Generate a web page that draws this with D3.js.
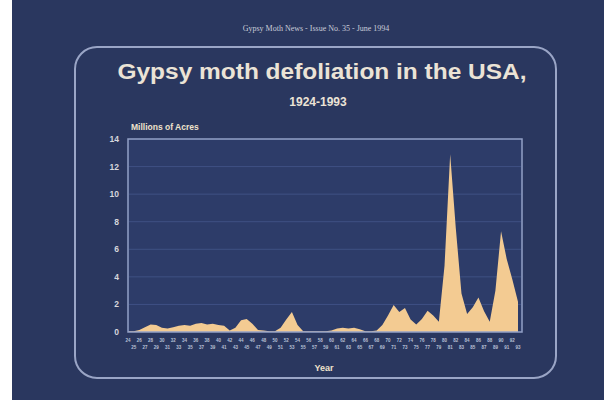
<!DOCTYPE html>
<html>
<head>
  <meta charset="utf-8">
  <style>
    body { margin: 0; background: #fff; }
    svg { display: block; }
    .grid line { stroke: #3f5184; stroke-width: 1; }
    .ylab { font: bold 8.5px "Liberation Sans", Arial, sans-serif; fill: #d6d6dc; }
    .xlab { font: bold 4.5px "Liberation Sans", Arial, sans-serif; fill: #b9c0d6; }
  </style>
</head>
<body>
  <svg width="604" height="400"></svg>
  <script src="https://cdn.jsdelivr.net/npm/d3@7"></script>
  <script>

  // years shown on the x axis
  var years = [1924, 1925, 1926, 1927, 1928, 1929, 1930, 1931, 1932, 1933,
               1934, 1935, 1936, 1937, 1938, 1939, 1940, 1941, 1942, 1943,
               1944, 1945, 1946, 1947, 1948, 1949, 1950, 1951, 1952, 1953,
               1954, 1955, 1956, 1957, 1958, 1959, 1960, 1961, 1962, 1963,
               1964, 1965, 1966, 1967, 1968, 1969, 1970, 1971, 1972, 1973,
               1974, 1975, 1976, 1977, 1978, 1979, 1980, 1981, 1982, 1983,
               1984, 1985, 1986, 1987, 1988, 1989, 1990, 1991, 1992, 1993];

  // defoliated area, millions of acres
  var acres = [0.05, 0.05, 0.15, 0.35, 0.55, 0.5, 0.3, 0.25, 0.35, 0.45,
               0.5, 0.45, 0.6, 0.65, 0.55, 0.6, 0.5, 0.45, 0.1, 0.3,
               0.85, 0.95, 0.6, 0.15, 0.1, 0.05, 0.05, 0.3, 0.9, 1.45,
               0.5, 0.05, 0.05, 0.05, 0.05, 0.05, 0.1, 0.25, 0.3, 0.25,
               0.3, 0.2, 0.05, 0.05, 0.1, 0.5, 1.2, 1.95, 1.45, 1.75,
               0.9, 0.55, 0.95, 1.55, 1.2, 0.75, 4.8, 12.9, 7.5, 2.8,
               1.3, 1.8, 2.5, 1.5, 0.75, 3.0, 7.3, 5.3, 3.8, 2.2];

  var yTicks = [0, 2, 4, 6, 8, 10, 12, 14];

  var header = "Gypsy Moth News - Issue No. 35 - June 1994",
      title = "Gypsy moth defoliation in the USA,",
      subtitle = "1924-1993",
      yTitle = "Millions of Acres",
      xTitle = "Year";

  var svg = d3.select("svg");

  // slide background (photo has a white strip on the left)
  svg.append("rect").attr("width", 604).attr("height", 400).attr("fill", "#fff");
  svg.append("rect").attr("x", 12).attr("width", 592).attr("height", 400).attr("fill", "#2a375f");

  // rounded frame
  svg.append("rect")
    .attr("x", 75).attr("y", 47).attr("width", 481).attr("height", 331)
    .attr("rx", 22)
    .attr("fill", "none").attr("stroke", "#9aa5c6").attr("stroke-width", 2);

  var data = years.map(function(y, i) { return {year: y, value: acres[i]}; });

  var x = d3.scaleLinear().domain([1924, 1993]).range([128, 518]),
      y = d3.scaleLinear().domain([0, 14]).range([332, 139]);

  // plot background
  svg.append("rect")
    .attr("x", 128).attr("y", 139).attr("width", 394).attr("height", 193)
    .attr("fill", "#2d3c69");

  // gridlines
  svg.append("g")
    .attr("class", "grid")
    .selectAll("line")
    .data(yTicks.slice(1, -1))
    .enter().append("line")
      .attr("x1", 129).attr("x2", 521)
      .attr("y1", function(d) { return y(d); })
      .attr("y2", function(d) { return y(d); });

  var area = d3.area()
    .x(function(d) { return x(d.year); })
    .y0(y(0))
    .y1(function(d) { return y(d.value); });

  svg.append("path")
    .datum(data)
    .attr("fill", "#f3cb92")
    .attr("d", area);

  // plot border
  svg.append("rect")
    .attr("x", 128).attr("y", 139).attr("width", 394).attr("height", 193)
    .attr("fill", "none").attr("stroke", "#93a1c7").attr("stroke-width", 1.5);

  // y axis labels
  svg.append("g")
    .selectAll("text")
    .data(yTicks)
    .enter().append("text")
      .attr("class", "ylab")
      .attr("x", 119)
      .attr("y", function(d) { return y(d); })
      .attr("dy", "0.35em")
      .attr("text-anchor", "end")
      .text(function(d) { return d; });

  // x axis labels, staggered on two rows
  svg.append("g")
    .selectAll("text")
    .data(years)
    .enter().append("text")
      .attr("class", "xlab")
      .attr("x", function(d) { return x(d); })
      .attr("y", function(d, i) { return i % 2 ? 349 : 342; })
      .attr("text-anchor", "middle")
      .text(function(d) { return String(d).slice(2); });

  // texts
  svg.append("text")
    .attr("x", 316).attr("y", 31)
    .attr("text-anchor", "middle")
    .style("font", "8px 'Liberation Serif', serif")
    .attr("fill", "#c9ccd8")
    .text(header);

  svg.append("text")
    .attr("x", 322).attr("y", 79)
    .attr("text-anchor", "middle")
    .attr("textLength", 409).attr("lengthAdjust", "spacingAndGlyphs")
    .style("font", "bold 22px 'Liberation Sans', Arial, sans-serif")
    .attr("fill", "#ebe3d6")
    .text(title);

  svg.append("text")
    .attr("x", 318).attr("y", 106)
    .attr("text-anchor", "middle")
    .style("font", "bold 12px 'Liberation Sans', Arial, sans-serif")
    .attr("fill", "#ebe3d6")
    .text(subtitle);

  svg.append("text")
    .attr("x", 131).attr("y", 130)
    .style("font", "bold 8.5px 'Liberation Sans', Arial, sans-serif")
    .attr("fill", "#efe2cc")
    .text(yTitle);

  svg.append("text")
    .attr("x", 324).attr("y", 371)
    .attr("text-anchor", "middle")
    .style("font", "bold 9px 'Liberation Sans', Arial, sans-serif")
    .attr("fill", "#efe2cc")
    .text(xTitle);

  </script>
</body>
</html>
